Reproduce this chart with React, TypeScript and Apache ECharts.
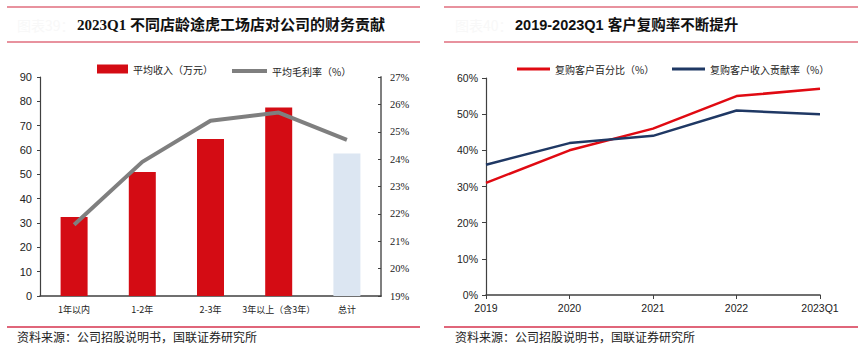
import React, { useEffect, useRef } from "react";
import * as echarts from "echarts";

const storeAgeCats = ["1年以内", "1-2年", "2-3年", "3年以上（含3年）", "总计"];
const avgRevenue = [32.5, 51, 64.5, 77.5, 58.6];
const avgGrossMargin = [21.6, 23.9, 25.4, 25.7, 24.7];

const yearCats = ["2019", "2020", "2021", "2022", "2023Q1"];
const repurchaseCustomerPct = [31, 40, 46, 55, 57];
const repurchaseRevenuePct = [36, 42, 44, 51, 50];

const leftTitle = "2023Q1 不同店龄途虎工场店对公司的财务贡献";
const rightTitle = "2019-2023Q1 客户复购率不断提升";
const sourceText = "资料来源：公司招股说明书，国联证券研究所";

const RED = "#D40C14";
const GREY = "#7F7F7F";
const LIGHTBLUE = "#DCE6F2";
const NAVY = "#1F3864";
const PINK = "#E8929E";
const PINK2 = "#E0667A";
const AXIS = "#404040";
const CJK = '"Noto Sans CJK SC", sans-serif';
const SANS = '"Liberation Sans", "Noto Sans CJK SC", sans-serif';
const SERIF = '"Liberation Serif", "Noto Sans CJK SC", serif';

export default function App() {
  const ref = useRef<HTMLDivElement>(null);
  useEffect(() => {
    if (!ref.current) return;
    const chart = echarts.init(ref.current, null, { renderer: "svg" });
    const hLine = (x1: number, x2: number, y: number, color: string) => ({
      type: "line",
      shape: { x1, y1: y, x2, y2: y },
      style: { stroke: color, lineWidth: 2 },
      silent: true,
    });
    const txt = (x: number, y: number, text: string, font: any) => ({
      type: "text",
      x,
      y,
      style: { text, verticalAlign: "middle", align: "left", ...font },
      silent: true,
    });
    const legendText = { fontSize: 10, fontFamily: CJK, color: "#222" };
    chart.setOption({
      animation: false,
      backgroundColor: "#ffffff",
      graphic: [
        hLine(7, 420, 7, PINK),
        hLine(7, 420, 42, PINK),
        hLine(444, 858, 7, PINK),
        hLine(444, 858, 42, PINK),
        hLine(7, 420, 327, PINK2),
        hLine(444, 858, 327, PINK2),
        txt(17, 25, "图表39：", { fill: "#f8f8f8", fontSize: 14, fontFamily: CJK }),
        txt(455, 25, "图表40：", { fill: "#f8f8f8", fontSize: 14, fontFamily: CJK }),
        txt(77, 25, leftTitle, { fill: "#111", fontSize: 15, fontWeight: "bold", fontFamily: SERIF }),
        txt(515, 25, rightTitle, { fill: "#111", fontSize: 14.5, fontFamily: SANS, fontWeight: "bold" }),
        txt(17, 336, sourceText, { fill: "#222", fontSize: 12, fontFamily: CJK }),
        txt(455, 336, sourceText, { fill: "#222", fontSize: 12, fontFamily: CJK }),
      ],
      legend: [
        {
          left: 92,
          top: 59,
          data: ["平均收入（万元）"],
          itemWidth: 31,
          itemHeight: 9,
          itemGap: 4,
          textStyle: legendText,
          icon: "rect",
        },
        {
          left: 227,
          top: 61,
          data: [{ name: "平均毛利率（%）", icon: "rect" }],
          itemWidth: 35,
          itemHeight: 4,
          textStyle: legendText,
        },
        {
          left: 512,
          top: 59,
          data: [{ name: "复购客户百分比（%）", icon: "rect" }],
          itemWidth: 33,
          itemHeight: 3,
          textStyle: legendText,
        },
        {
          left: 667,
          top: 59,
          data: [{ name: "复购客户收入贡献率（%）", icon: "rect" }],
          itemWidth: 33,
          itemHeight: 3,
          textStyle: legendText,
        },
      ],
      grid: [
        { left: 40, right: 866 - 381, top: 77, bottom: 352 - 296, containLabel: false },
        { left: 486, right: 866 - 820, top: 78, bottom: 352 - 295, containLabel: false },
      ],
      xAxis: [
        {
          type: "category",
          gridIndex: 0,
          data: storeAgeCats,
          boundaryGap: true,
          axisLine: { lineStyle: { color: AXIS, width: 1.5 } },
          axisTick: { show: false },
          axisLabel: { fontSize: 9, fontFamily: CJK, color: "#222", margin: 9, interval: 0 },
        },
        {
          type: "category",
          gridIndex: 1,
          data: yearCats,
          boundaryGap: false,
          axisLine: { lineStyle: { color: AXIS, width: 1.5 } },
          axisTick: { show: true, length: 4, lineStyle: { color: AXIS } },
          axisLabel: { fontSize: 10.5, fontFamily: SANS, color: "#222", margin: 8, interval: 0 },
        },
      ],
      yAxis: [
        {
          type: "value",
          gridIndex: 0,
          min: 0,
          max: 90,
          interval: 10,
          axisLine: { show: true, lineStyle: { color: AXIS, width: 1.2 } },
          axisTick: { show: true, length: 3, lineStyle: { color: AXIS } },
          splitLine: { show: false },
          axisLabel: { fontSize: 11, fontFamily: SANS, color: "#222", margin: 8 },
        },
        {
          type: "value",
          gridIndex: 0,
          position: "right",
          min: 19,
          max: 27,
          interval: 1,
          axisLine: { show: true, lineStyle: { color: GREY, width: 2 } },
          axisTick: { show: true, inside: true, length: 3, lineStyle: { color: AXIS } },
          splitLine: { show: false },
          axisLabel: { fontSize: 10.5, fontFamily: SERIF, color: "#222", margin: 9, formatter: "{value}%" },
        },
        {
          type: "value",
          gridIndex: 1,
          min: 0,
          max: 60,
          interval: 10,
          axisLine: { show: true, lineStyle: { color: AXIS, width: 1.2 } },
          axisTick: { show: true, length: 4, lineStyle: { color: AXIS } },
          splitLine: { show: false },
          axisLabel: { fontSize: 10.5, fontFamily: SANS, color: "#222", margin: 8, formatter: "{value}%" },
        },
      ],
      series: [
        {
          name: "平均收入（万元）",
          type: "bar",
          xAxisIndex: 0,
          yAxisIndex: 0,
          barWidth: 27,
          itemStyle: { color: RED },
          data: avgRevenue.map((v, i) =>
            i === avgRevenue.length - 1 ? { value: v, itemStyle: { color: LIGHTBLUE } } : v
          ),
        },
        {
          name: "平均毛利率（%）",
          type: "line",
          xAxisIndex: 0,
          yAxisIndex: 1,
          symbol: "none",
          showSymbol: false,
          lineStyle: { color: GREY, width: 4 },
          itemStyle: { color: GREY },
          data: avgGrossMargin,
        },
        {
          name: "复购客户百分比（%）",
          type: "line",
          xAxisIndex: 1,
          yAxisIndex: 2,
          symbol: "none",
          showSymbol: false,
          lineStyle: { color: "#E00A12", width: 2.5 },
          itemStyle: { color: "#E00A12" },
          data: repurchaseCustomerPct,
        },
        {
          name: "复购客户收入贡献率（%）",
          type: "line",
          xAxisIndex: 1,
          yAxisIndex: 2,
          symbol: "none",
          showSymbol: false,
          lineStyle: { color: NAVY, width: 2.5 },
          itemStyle: { color: NAVY },
          data: repurchaseRevenuePct,
        },
      ],
    });
    return () => chart.dispose();
  }, []);
  return (
    <div
      ref={ref}
      style={{ position: "fixed", left: 0, top: 0, width: 866, height: 352, background: "#fff" }}
    />
  );
}
